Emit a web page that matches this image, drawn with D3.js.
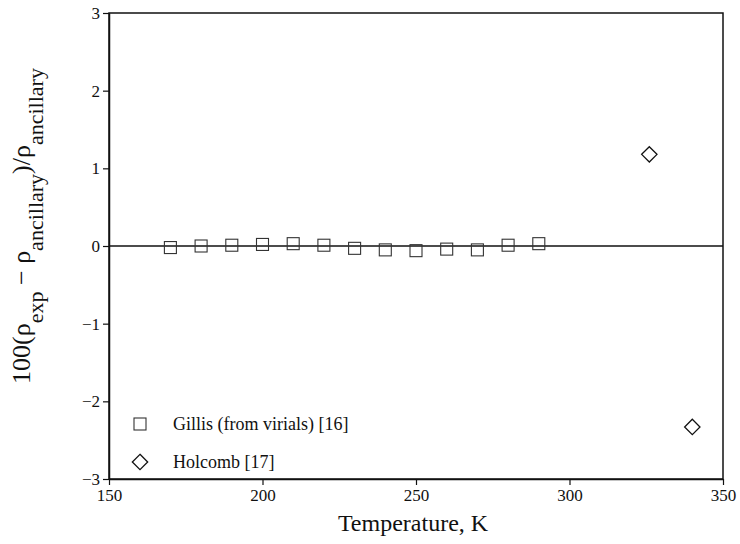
<!DOCTYPE html>
<html>
<head>
<meta charset="utf-8">
<script src="https://cdn.jsdelivr.net/npm/d3@7"></script>
<style>
  html, body { margin: 0; padding: 0; background: #fff; }
  svg { display: block; }
  text { font-family: "Liberation Serif", "DejaVu Serif", serif; fill: #111; }
</style>
</head>
<body>
<svg id="chart" width="740" height="544"></svg>
<script>
// Deviation of experimental densities from the ancillary equation
const gillisT = [170, 180, 190, 200, 210, 220, 230, 240, 250, 260, 270, 280, 290];
const gillisDev = [-0.02, 0.0, 0.01, 0.02, 0.03, 0.01, -0.03, -0.05, -0.06, -0.04, -0.05, 0.01, 0.03];
const holcombT = [326, 340];
const holcombDev = [1.18, -2.33];
const xTicks = [150, 200, 250, 300, 350];
const yTicks = [-3, -2, -1, 0, 1, 2, 3];
const legendLabels = ["Gillis (from virials) [16]", "Holcomb [17]"];

const svg = d3.select("#chart");
const m = { left: 109, right: 17, top: 13, bottom: 65 };
const W = 740, H = 544;

const x = d3.scaleLinear().domain([150, 350]).range([m.left, W - m.right]);
const y = d3.scaleLinear().domain([-3, 3]).range([H - m.bottom, m.top]);

// frame
svg.append("rect")
  .attr("x", x(150)).attr("y", y(3))
  .attr("width", x(350) - x(150)).attr("height", y(-3) - y(3))
  .attr("fill", "none").attr("stroke", "#111").attr("stroke-width", 1.5);

// zero reference line
svg.append("line")
  .attr("x1", x(150)).attr("x2", x(350))
  .attr("y1", y(0)).attr("y2", y(0))
  .attr("stroke", "#111").attr("stroke-width", 1.5);

const fmtY = d => d < 0 ? "\u2212" + Math.abs(d) : String(d);

const xAxis = svg.append("g")
  .attr("transform", `translate(0,${y(-3)})`)
  .call(d3.axisBottom(x).tickValues(xTicks).tickSize(6).tickSizeOuter(0).tickPadding(4));
const yAxis = svg.append("g")
  .attr("transform", `translate(${x(150)},0)`)
  .call(d3.axisLeft(y).tickValues(yTicks).tickSize(6).tickSizeOuter(0).tickPadding(3).tickFormat(fmtY));

[xAxis, yAxis].forEach(g => {
  g.select(".domain").attr("stroke", "#111").attr("stroke-width", 1.5);
  g.selectAll(".tick line").attr("stroke", "#111").attr("stroke-width", 1.2);
  g.selectAll(".tick text")
    .attr("font-family", "Liberation Serif, serif")
    .attr("font-size", 17).attr("fill", "#111");
});

// Gillis: open squares
const sq = 12;
svg.append("g").selectAll("rect")
  .data(gillisT.map((t, i) => [t, gillisDev[i]]))
  .join("rect")
  .attr("x", d => x(d[0]) - sq / 2)
  .attr("y", d => y(d[1]) - sq / 2)
  .attr("width", sq).attr("height", sq)
  .attr("fill", "none").attr("stroke", "#333").attr("stroke-width", 1.1);

// Holcomb: open diamonds
const diamond = d3.symbol().type(d3.symbolDiamond2).size(150);
svg.append("g").selectAll("path")
  .data(holcombT.map((t, i) => [t, holcombDev[i]]))
  .join("path")
  .attr("d", diamond)
  .attr("transform", d => `translate(${x(d[0])},${y(d[1])})`)
  .attr("fill", "none").attr("stroke", "#111").attr("stroke-width", 1.3);

// legend
const lg = svg.append("g");
lg.append("rect").attr("x", 134).attr("y", 418).attr("width", sq).attr("height", sq)
  .attr("fill", "none").attr("stroke", "#333").attr("stroke-width", 1.1);
lg.append("path").attr("d", diamond)
  .attr("transform", "translate(140,462)")
  .attr("fill", "none").attr("stroke", "#111").attr("stroke-width", 1.3);
lg.selectAll("text").data(legendLabels).join("text")
  .attr("x", 173).attr("y", (d, i) => 430 + i * 38)
  .attr("font-size", 18)
  .text(d => d);

// axis titles
svg.append("text")
  .attr("x", x(250) - 3).attr("y", 531)
  .attr("text-anchor", "middle").attr("font-size", 24)
  .text("Temperature, K");

const yt = svg.append("text")
  .attr("transform", `translate(30,226) rotate(-90)`)
  .attr("text-anchor", "middle").attr("font-size", 26);
yt.append("tspan").text("100(\u03c1");
yt.append("tspan").attr("baseline-shift", "sub").attr("font-size", 22).text("exp");
yt.append("tspan").text(" \u2212 \u03c1");
yt.append("tspan").attr("baseline-shift", "sub").attr("font-size", 22).text("ancillary");
yt.append("tspan").text(")/\u03c1");
yt.append("tspan").attr("baseline-shift", "sub").attr("font-size", 22).text("ancillary");
</script>
</body>
</html>
